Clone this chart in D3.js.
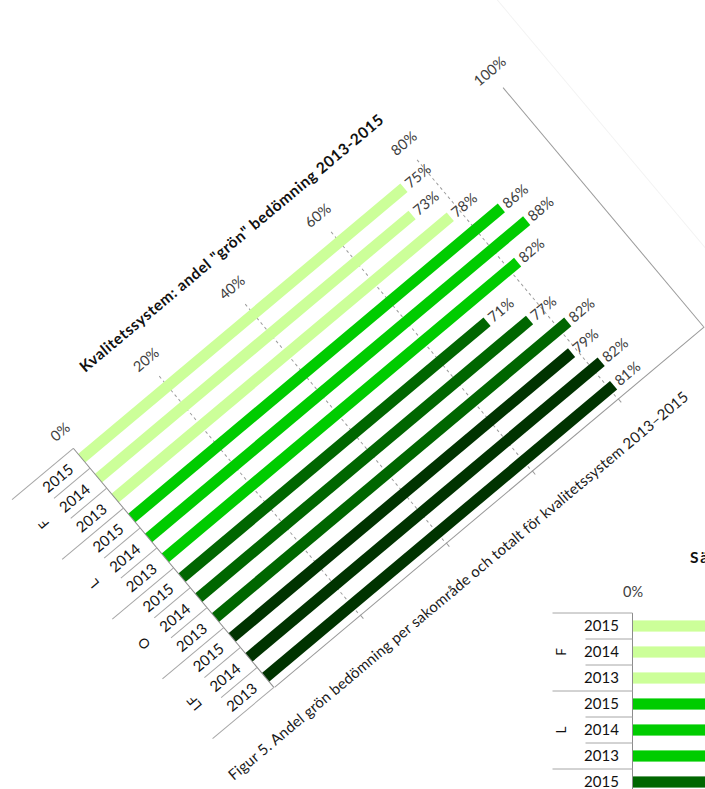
<!DOCTYPE html>
<html>
<head>
<meta charset="utf-8">
<script src="https://cdn.jsdelivr.net/npm/d3@7"></script>
<style>
  body { margin: 0; background: #fff; }
  text { font-family: Lato, "Open Sans", sans-serif; }
</style>
</head>
<body>
<script>
// data
var groups = ['F', 'L', 'O', 'LF'];
var years = ['2015', '2014', '2013'];
var ticks = [0, 20, 40, 60, 80, 100];

// Kvalitetssystem (rotated chart)
var kvalF = [75, 73, 78];
var kvalL = [86, 88, 82];
var kvalO = [71, 77, 82];
var kvalLF = [79, 82, 81];

// second chart, mostly off the page (bars run past the edge)
var sakF = [80, 78, 74];
var sakL = [90, 87, 85];
var sakO = [76, 79, 81];
var sakLF = [82, 81, 80];

var groupColor = {F: '#ccff99', L: '#00cc00', O: '#006600', LF: '#003300'};

var width = 705, height = 789;
var plotW = 561, plotH = 312;

var svg = d3.select('body').append('svg')
  .attr('width', width)
  .attr('height', height);

var makeRows = function(f, l, o, lf) {
  var series = {F: f, L: l, O: o, LF: lf};
  var rows = [];
  groups.forEach(function(g) {
    years.forEach(function(y, i) {
      rows.push({group: g, year: y, key: g + '|' + y, value: series[g][i], first: i === 0});
    });
  });
  return rows;
};

var drawChart = function(g, rows, title) {
  var x = d3.scaleLinear().domain([0, 100]).range([0, plotW]);
  var row = d3.scaleBand().domain(rows.map(function(d) { return d.key; })).range([0, plotH]);
  var y = d3.scaleBand().domain(row.domain()).range([0, plotH]).paddingInner(0.57).paddingOuter(0.285);

  // gridlines
  g.selectAll('.grid').data(ticks.slice(1)).enter().append('line')
    .attr('x1', x).attr('x2', x)
    .attr('y1', 0).attr('y2', plotH)
    .attr('stroke', function(d) { return d === 100 ? '#9a9a9a' : '#9c9c9c'; })
    .attr('stroke-dasharray', function(d) { return d === 100 ? null : '3,3'; });

  // bottom axis line with ticks
  var bottom = g.append('g').attr('transform', 'translate(0,' + plotH + ')')
    .call(d3.axisBottom(x).tickValues(ticks.slice(1, -1)).tickSize(5).tickSizeOuter(0).tickFormat(''));
  bottom.selectAll('path, line').attr('stroke', '#9a9a9a');

  // value labels on top
  var top = g.append('g')
    .call(d3.axisTop(x).tickValues(ticks).tickSize(0).tickPadding(16).tickFormat(function(d) { return d + '%'; }));
  top.select('.domain').remove();
  top.selectAll('text').attr('font-family', 'Lato').attr('font-size', 14.5).attr('fill', '#404040');

  // bars
  g.selectAll('.bar').data(rows).enter().append('rect')
    .attr('x', 0)
    .attr('y', function(d) { return y(d.key); })
    .attr('width', function(d) { return x(d.value); })
    .attr('height', y.bandwidth())
    .attr('fill', function(d) { return groupColor[d.group]; });

  g.selectAll('.lbl').data(rows).enter().append('text')
    .attr('x', function(d) { return x(d.value) + 4; })
    .attr('y', function(d) { return row(d.key) + row.bandwidth() / 2; })
    .attr('dy', '0.35em')
    .attr('font-size', 14.5)
    .attr('fill', '#404040')
    .text(function(d) { return d.value + '%'; });

  // category axis
  g.append('line').attr('x1', 0).attr('x2', 0).attr('y1', 0).attr('y2', plotH).attr('stroke', '#8c8c8c');

  g.selectAll('.sep').data(rows).enter().append('line')
    .attr('x1', function(d) { return d.first ? -80 : -47; })
    .attr('x2', 0)
    .attr('y1', function(d) { return row(d.key); })
    .attr('y2', function(d) { return row(d.key); })
    .attr('stroke', '#a6a6a6');
  g.append('line').attr('x1', -80).attr('x2', 0).attr('y1', plotH).attr('y2', plotH).attr('stroke', '#a6a6a6');

  g.selectAll('.yr').data(rows).enter().append('text')
    .attr('x', -31)
    .attr('y', function(d) { return row(d.key) + row.bandwidth() / 2; })
    .attr('dy', '0.36em')
    .attr('text-anchor', 'middle')
    .attr('font-size', 15)
    .attr('fill', '#111')
    .text(function(d) { return d.year; });

  g.selectAll('.grp').data(groups).enter().append('text')
    .attr('transform', function(d) {
      var c = row(d + '|' + years[1]) + row.bandwidth() / 2;
      return 'translate(-71,' + c + ') rotate(-90)';
    })
    .attr('dy', '0.35em')
    .attr('text-anchor', 'middle')
    .attr('font-size', 13.5)
    .attr('fill', '#111')
    .text(function(d) { return d; });

  g.append('text')
    .attr('x', 253).attr('y', -50)
    .attr('text-anchor', 'middle')
    .attr('font-size', 15.5)
    .attr('font-weight', 'bold')
    .attr('fill', '#111')
    .attr('textLength', 391)
    .attr('lengthAdjust', 'spacing')
    .text(title);
};

// rotated chart
var g1 = svg.append('g').attr('transform', 'translate(73.3,448.3) rotate(-40)');
g1.append('line').attr('x1', 613).attr('x2', 613).attr('y1', -120).attr('y2', 420).attr('stroke', '#f3f3f3');
drawChart(g1, makeRows(kvalF, kvalL, kvalO, kvalLF), 'Kvalitetssystem: andel "grön" bedömning 2013-2015');

g1.append('text')
  .attr('x', -91).attr('y', 358)
  .attr('font-size', 15)
  .attr('fill', '#1a1a1a')
  .attr('textLength', 595)
  .attr('lengthAdjust', 'spacing')
  .text('Figur 5. Andel grön bedömning per sakområde och totalt för kvalitetssystem 2013–2015');

// second chart, unrotated, cut by the page edge
var g2 = svg.append('g').attr('transform', 'translate(632.5,613)');
drawChart(g2, makeRows(sakF, sakL, sakO, sakLF), 'Säkerhet: andel "grön" bedömning 2013-2015');
</script>
</body>
</html>
